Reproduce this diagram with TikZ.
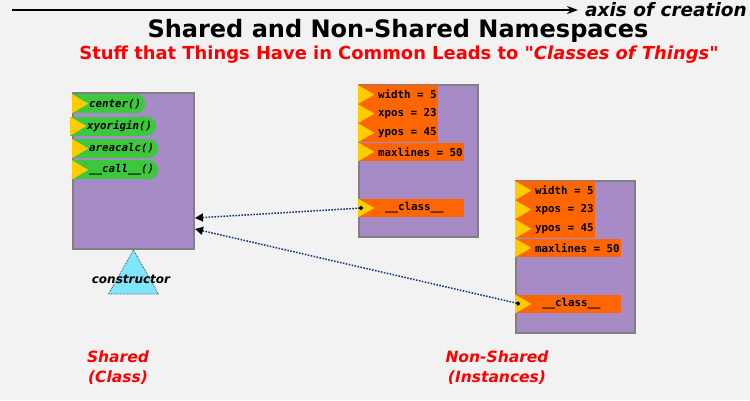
\documentclass[tikz,border=0pt]{standalone}
\usepackage{fontspec}
\setmainfont{DejaVu Sans}[Ligatures=TeXOff, BoldFont={DejaVu Sans Bold}, ItalicFont={DejaVu Sans Oblique}, BoldItalicFont={DejaVu Sans Bold Oblique}]
\setmonofont{DejaVu Sans Mono}[BoldFont={DejaVu Sans Mono Bold}, ItalicFont={DejaVu Sans Mono Oblique}, BoldItalicFont={DejaVu Sans Mono Bold Oblique}]
\usepackage{xcolor}
\definecolor{bgray}{HTML}{F2F2F2}
\definecolor{boxfill}{HTML}{A68BC6}
\definecolor{boxline}{HTML}{808080}
\definecolor{methgreen}{HTML}{3DC73D}
\definecolor{attrorange}{HTML}{FF6600}
\definecolor{flagyellow}{HTML}{FFCC00}
\definecolor{ctorcyan}{HTML}{80E5FF}
\definecolor{refblue}{HTML}{0B2F80}
\usetikzlibrary{arrows.meta, positioning}
\tikzset{
    nsbox/.style={
        draw=boxline, line width=2pt,
        fill=boxfill,
        inner sep=0pt,
        anchor=north west
    },
    flag/.style={
        path picture={
            \fill[flagyellow] (path picture bounding box.north west)
                -- ([xshift=16pt]path picture bounding box.west)
                -- (path picture bounding box.south west) -- cycle;}
    },
    meth/.style={
        rectangle,
        minimum height=19pt,
        inner xsep=0pt, inner ysep=0pt,
        font=\fontsize{10.8}{12}\selectfont\ttfamily\bfseries\itshape,
        execute at begin node=\hspace*{17pt},
        execute at end node=\hspace*{4pt},
        path picture={
            \fill[methgreen] (path picture bounding box.south west)
                rectangle ([xshift=-12pt]path picture bounding box.north east);
            \fill[methgreen, rounded corners=9.5pt]
                ([xshift=-24pt]path picture bounding box.south east)
                rectangle (path picture bounding box.north east);
            \fill[flagyellow] (path picture bounding box.north west)
                -- ([xshift=16pt]path picture bounding box.west)
                -- (path picture bounding box.south west) -- cycle;}
    },
    attr/.style={
        flag,
        rectangle,
        fill=attrorange,
        minimum height=18.7pt,
        inner xsep=1.5pt, inner ysep=0pt,
        font=\fontsize{10.8}{12}\selectfont\ttfamily\bfseries,
        execute at begin node=\hspace*{18.5pt}
    },
    clsattr/.style={
        execute at begin node=\hspace*{7pt},
        execute at end node=\hspace*{18.5pt}
    },
    ctor/.style={
        fill=ctorcyan,
        draw=black!70, densely dotted, thick
    },
    axis/.style={
        line width=1.5pt,
        -{Stealth[length=11pt, width=8pt]}
    },
    ref/.style={
        refblue, line width=1.5pt,
        dash pattern=on 1.5pt off 1.5pt,
        {Circle[black, length=4pt]}-{Triangle[black, length=8pt, width=8pt]}
    },
    sidelab/.style={
        text=red, align=center,
        font=\fontsize{15.5}{20}\selectfont\bfseries\itshape
    }
}

\begin{document}
\begin{tikzpicture}[x=1pt, y=-1pt]
    \fill[bgray] (0,0) rectangle (750,400);
    \useasboundingbox (0,0) rectangle (750,400);

    % axis and headings
    \coordinate (axstart) at (12,10);
    \node[anchor=west, inner xsep=7pt, font=\fontsize{18.5}{22}\selectfont\bfseries\itshape] (axlab) at (578,10) {axis of creation};
    \draw[axis] (axstart) -- (axlab.west);

    \node[font=\fontsize{24}{28}\selectfont\bfseries] (title) at (398,31) {Shared and Non-Shared Namespaces};
    \node[text=red, font=\fontsize{17.9}{21}\selectfont\bfseries] (subtitle) at (399,55) {Stuff that Things Have in Common Leads to "\textit{Classes of Things}"};

    % the class
    \node[nsbox, minimum width=121pt, minimum height=156pt] (classbox) at (72,92) {};
    \node[meth, below right=2pt and 0pt of classbox.north west] (center) {center()};
    \node[meth, below right=3pt and -2pt of center.south west] (xyorigin) {xyorigin()};
    \node[meth, below right=3pt and 2pt of xyorigin.south west] (areacalc) {areacalc()};
    \node[meth, below right=2pt and 0pt of areacalc.south west] (call) {\_\_call\_\_()};

    \draw[ctor] (classbox.south) -- ++(25,44) -- ++(-50,0) -- cycle;
    \node[font=\fontsize{12}{14}\selectfont\bfseries\itshape] (ctorlab) at (131,279) {constructor};

    % the instances
    \foreach \i/\ox/\oy in {1/358/84, 2/515/180} {
        \node[nsbox, minimum width=119pt, minimum height=152pt] (inst\i) at (\ox,\oy) {};
        \node[attr, below right=1pt and 0pt of inst\i.north west] (wd\i) {width = 5};
        \node[attr, below right=0pt of wd\i.south west] (xp\i) {xpos = 23};
        \node[attr, below right=0pt of xp\i.south west] (yp\i) {ypos = 45};
        \node[attr, below right=0pt of yp\i.south west] (ml\i) {maxlines = 50};
        \node[attr, clsattr, below right=37pt and 0pt of ml\i.south west] (cls\i) {\_\_class\_\_};
    }

    \draw[ref] ([xshift=5pt]cls1.west) -- ([yshift=-47pt]classbox.east);
    \draw[ref] ([xshift=5pt]cls2.west) -- ([yshift=-58pt]classbox.east);

    \node[sidelab] (sharedlab) at (118,368) {Shared\\(Class)};
    \node[sidelab] (instlab) at (497,368) {Non-Shared\\(Instances)};
\end{tikzpicture}
\end{document}
